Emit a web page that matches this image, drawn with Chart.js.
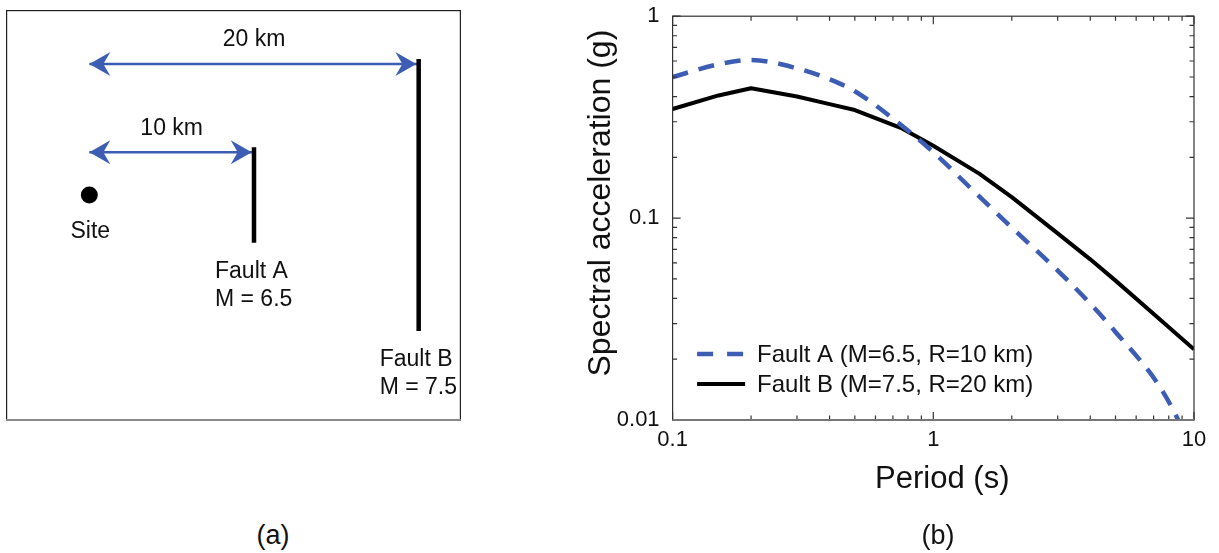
<!DOCTYPE html>
<html><head><meta charset="utf-8">
<script src="https://cdn.jsdelivr.net/npm/chart.js@4.4.1/dist/chart.umd.min.js"></script>
<style>
html,body{margin:0;padding:0;background:#fff;width:1219px;height:553px;overflow:hidden;position:relative;}
canvas{position:absolute;}
#ca{left:6px;top:10px;}
#cb{left:560px;top:-10px;}
.cap{position:absolute;font-family:'Liberation Sans',Arial,Helvetica,sans-serif;font-size:27px;color:#111;transform:translate(-50%,-50%);white-space:nowrap;}
</style></head><body>
<canvas id="ca" width="455" height="411"></canvas>
<canvas id="cb" width="659" height="563"></canvas>
<div class="cap" style="left:273px;top:535px">(a)</div>
<div class="cap" style="left:938px;top:535px">(b)</div>
<script>
// ---------- Panel (b) data ----------
const periods   = [0.1, 0.15, 0.2, 0.3, 0.4, 0.5, 0.75, 1, 1.5, 2, 3, 4, 5, 7.5, 10];
const faultA_Sa = [0.50, 0.578, 0.607, 0.552, 0.487, 0.425, 0.29, 0.212, 0.128, 0.0897, 0.055, 0.0377, 0.0273, 0.0142, 0.0070];
const faultB_Sa = [0.347, 0.405, 0.44, 0.40, 0.367, 0.343, 0.28, 0.228, 0.166, 0.127, 0.084, 0.0625, 0.049, 0.031, 0.0224];
const seriesLabels = ['Fault A (M=6.5, R=10 km)', 'Fault B (M=7.5, R=20 km)'];
const xTickLabels = ['0.1', '1', '10'];
const yTickLabels = ['0.01', '0.1', '1'];
const xTitle = 'Period (s)';
const yTitle = 'Spectral acceleration (g)';

// ---------- Panel (a) data ----------
const faultNames = ['Fault A', 'Fault B'];
const faultMagnitudes = [6.5, 7.5];
const faultDistancesKm = [10, 20];
const faultHalfLengthsKm = [2.9, 8.25];
const siteLabel = 'Site';

const FONT = "'Liberation Sans', Arial, Helvetica, sans-serif";
const BLUE = '#3d5cb4';
const TXT = '#111';

// ================= Panel (a) =================
function arrowHead(ctx, x, y, dir) {
  const L = 21, H = 12, N = 14;
  ctx.beginPath();
  ctx.moveTo(x, y);
  ctx.lineTo(x - dir * L, y - H);
  ctx.lineTo(x - dir * N, y);
  ctx.lineTo(x - dir * L, y + H);
  ctx.closePath();
  ctx.fill();
}
const nF = faultNames.length;
const diagramPlugin = {
  id: 'diagram',
  afterDatasetsDraw(chart) {
    const {ctx, chartArea: a} = chart;
    ctx.save();
    for (let i = 0; i < nF; i++) {
      const fl = chart.getDatasetMeta(i).data;
      const sh = chart.getDatasetMeta(nF + 1 + i).data;
      const p0 = sh[0], p1 = sh[1];
      ctx.fillStyle = BLUE;
      arrowHead(ctx, p0.x, p0.y, -1);
      arrowHead(ctx, p1.x - 2.3, p1.y, 1);
      ctx.fillStyle = TXT;
      ctx.font = `23px ${FONT}`;
      ctx.textAlign = 'center';
      ctx.textBaseline = 'middle';
      ctx.fillText(faultDistancesKm[i] + ' km', (p0.x + p1.x) / 2, p0.y - 24);
      const bot = fl[1];
      ctx.textAlign = 'left';
      ctx.fillText(faultNames[i], bot.x - 39, bot.y + 29);
      ctx.fillText('M = ' + faultMagnitudes[i], bot.x - 39, bot.y + 57);
    }
    const site = chart.getDatasetMeta(nF).data[0];
    ctx.textAlign = 'center';
    ctx.fillText(siteLabel, site.x + 1, site.y + 37);
    ctx.strokeStyle = '#222';
    ctx.lineWidth = 1.2;
    ctx.strokeRect(a.left + 0.6, a.top + 0.6, a.right - a.left - 1.2, a.bottom - a.top - 1.6);
    ctx.strokeStyle = '#8a8a8a';
    ctx.lineWidth = 2;
    ctx.beginPath(); ctx.moveTo(a.left, a.bottom - 1); ctx.lineTo(a.right, a.bottom - 1); ctx.stroke();
    ctx.restore();
  }
};
const arrowOffsetKm = 0.3;
const dsA = [];
for (let i = 0; i < nF; i++) {
  dsA.push({ data: [{x: faultDistancesKm[i], y: faultHalfLengthsKm[i]}, {x: faultDistancesKm[i], y: -faultHalfLengthsKm[i]}],
    showLine: true, borderColor: '#000', borderWidth: 4.5, pointRadius: 0, borderCapStyle: 'butt' });
}
dsA.push({ data: [{x: 0, y: 0}], pointRadius: 8.5, pointBackgroundColor: '#000', pointBorderWidth: 0, showLine: false });
for (let i = 0; i < nF; i++) {
  const yy = faultHalfLengthsKm[i] - arrowOffsetKm;
  dsA.push({ data: [{x: 0, y: yy}, {x: faultDistancesKm[i], y: yy}], showLine: true, borderColor: BLUE, borderWidth: 2.5, pointRadius: 0 });
}
new Chart(document.getElementById('ca'), {
  type: 'scatter',
  data: { datasets: dsA },
  options: {
    responsive: false, animation: false, devicePixelRatio: 1,
    layout: { padding: 0, autoPadding: false },
    plugins: { legend: { display: false }, tooltip: { enabled: false } },
    scales: {
      x: { type: 'linear', display: false, min: -5.06, max: 22.57 },
      y: { type: 'linear', display: false, min: -13.72, max: 11.23 }
    }
  },
  plugins: [diagramPlugin]
});

// ================= Panel (b) =================
function logTicks(scale) {
  const out = [];
  const lo = Math.floor(Math.log10(scale.min) + 1e-9), hi = Math.ceil(Math.log10(scale.max) - 1e-9);
  for (let d = lo; d <= hi; d++) for (let k = 1; k <= 9; k++) {
    const v = k * Math.pow(10, d);
    if (v >= scale.min * 0.9999 && v <= scale.max * 1.0001) out.push({v, major: k === 1});
  }
  return out;
}
const frameTicks = {
  id: 'frameTicks',
  afterDatasetsDraw(chart) {
    const {ctx, chartArea: a, scales: {x, y}} = chart;
    ctx.save();
    ctx.strokeStyle = '#333';
    ctx.lineWidth = 1.2;
    ctx.beginPath();
    logTicks(x).forEach(t => {
      const px = x.getPixelForValue(t.v); const L = t.major ? 8 : 4.5;
      ctx.moveTo(px, a.bottom); ctx.lineTo(px, a.bottom - L);
      ctx.moveTo(px, a.top); ctx.lineTo(px, a.top + L);
    });
    logTicks(y).forEach(t => {
      const py = y.getPixelForValue(t.v); const L = t.major ? 8 : 4.5;
      ctx.moveTo(a.left, py); ctx.lineTo(a.left + L, py);
      ctx.moveTo(a.right, py); ctx.lineTo(a.right - L, py);
    });
    ctx.stroke();
    ctx.strokeRect(a.left, a.top, a.right - a.left, a.bottom - a.top);
    ctx.strokeStyle = '#777';
    ctx.lineWidth = 2;
    ctx.beginPath(); ctx.moveTo(a.left, a.bottom); ctx.lineTo(a.right, a.bottom); ctx.stroke();
    ctx.restore();
  }
};
const legendIn = {
  id: 'legendIn',
  afterDatasetsDraw(chart) {
    const {ctx, chartArea: a} = chart;
    ctx.save();
    chart.data.datasets.forEach((ds, i) => {
      const yy = a.bottom - 66 + i * 30;
      const x0 = a.left + 24.5;
      ctx.beginPath();
      ctx.setLineDash(ds.borderDash ? [16, 14] : []);
      ctx.lineWidth = ds.borderWidth;
      ctx.strokeStyle = ds.borderColor;
      ctx.moveTo(x0, yy); ctx.lineTo(x0 + 48, yy);
      ctx.stroke();
      ctx.setLineDash([]);
      ctx.fillStyle = TXT;
      ctx.font = `24px ${FONT}`;
      ctx.textBaseline = 'middle';
      ctx.textAlign = 'left';
      ctx.fillText(ds.label, x0 + 60, yy + 1);
    });
    ctx.restore();
  }
};
const axisTitles = {
  id: 'axisTitles',
  afterDraw(chart) {
    const {ctx, chartArea: a} = chart;
    ctx.save();
    ctx.fillStyle = TXT;
    ctx.textAlign = 'center';
    ctx.textBaseline = 'alphabetic';
    ctx.font = `31px ${FONT}`;
    ctx.fillText(xTitle, (a.left + a.right) / 2 + 9, a.bottom + 68);
    ctx.translate(a.left - 62.5, (a.top + a.bottom) / 2 - 15);
    ctx.rotate(-Math.PI / 2);
    ctx.font = `32px ${FONT}`;
    ctx.fillText(yTitle, 0, 0);
    ctx.restore();
  }
};
new Chart(document.getElementById('cb'), {
  type: 'line',
  data: {
    datasets: [
      { label: seriesLabels[0], data: periods.map((t, i) => ({x: t, y: faultA_Sa[i]})),
        borderColor: BLUE, borderWidth: 4.5, borderDash: [16, 11], pointRadius: 0,
        cubicInterpolationMode: 'monotone', fill: false, clip: 0 },
      { label: seriesLabels[1], data: periods.map((t, i) => ({x: t, y: faultB_Sa[i]})),
        borderColor: '#000', borderWidth: 4, pointRadius: 0, tension: 0, fill: false, clip: 0,
        borderJoinStyle: 'round' }
    ]
  },
  options: {
    responsive: false, animation: false, devicePixelRatio: 1,
    layout: { padding: { top: 20, right: 25, left: 0, bottom: 0 } },
    plugins: { legend: { display: false }, tooltip: { enabled: false } },
    scales: {
      x: {
        type: 'logarithmic', min: 0.1, max: 10,
        grid: { display: false, drawTicks: false }, border: { display: false },
        afterBuildTicks: s => { s.ticks = xTickLabels.map(l => ({value: parseFloat(l)})); },
        ticks: { autoSkip: false, maxRotation: 0, padding: 7, color: TXT, font: { family: FONT, size: 22 },
                 callback: (v, i) => xTickLabels[i] },
        afterFit: s => { s.height = 133; }
      },
      y: {
        type: 'logarithmic', min: 0.01, max: 1,
        grid: { display: false, drawTicks: false }, border: { display: false },
        afterBuildTicks: s => { s.ticks = yTickLabels.map(l => ({value: parseFloat(l)})); },
        ticks: { autoSkip: false, padding: 13, color: TXT, font: { family: FONT, size: 22 },
                 callback: (v, i) => yTickLabels[i] },
        afterFit: s => { s.width = 112.6; }
      }
    }
  },
  plugins: [frameTicks, legendIn, axisTitles]
});
</script>
</body></html>
